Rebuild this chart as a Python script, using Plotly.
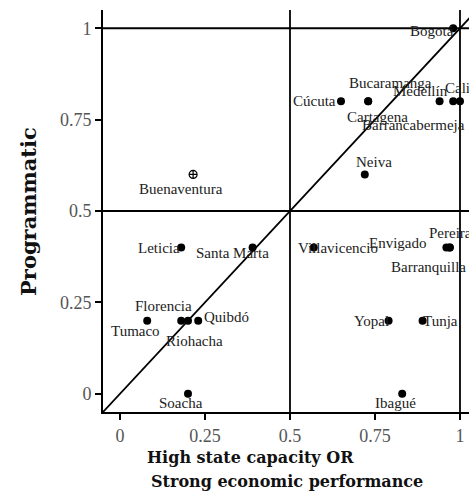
import plotly.graph_objects as go

# ---- data ----
cities = ["Bogotá", "Cúcuta", "Bucaramanga", "Cartagena", "Medellín", "Cali",
          "Barrancabermeja", "Neiva", "Leticia", "Santa Marta", "Villavicencio",
          "Envigado", "Pereira", "Barranquilla", "Tumaco", "Florencia", "Riohacha",
          "Quibdó", "Soacha", "Yopal", "Tunja", "Ibagué"]
x_capacity = [0.98, 0.65, 0.73, 0.73, 0.94, 0.98,
              1.00, 0.72, 0.18, 0.39, 0.57,
              0.96, 0.97, 0.97, 0.08, 0.18, 0.20,
              0.23, 0.20, 0.79, 0.89, 0.83]
y_programmatic = [1.0, 0.8, 0.8, 0.8, 0.8, 0.8,
                  0.8, 0.6, 0.4, 0.4, 0.4,
                  0.4, 0.4, 0.4, 0.2, 0.2, 0.2,
                  0.2, 0.0, 0.2, 0.2, 0.0]
special_city = ["Buenaventura"]
special_x = [0.215]
special_y = [0.6]

tick_vals = [0, 0.25, 0.5, 0.75, 1]
tick_text = ["0", "0.25", "0.5", "0.75", "1"]
x_title_lines = ["High state capacity OR", "Strong economic performance"]
y_title = "Programmatic"

# ---- label placement (pixel offsets / anchors: style only) ----
label_style = {
    "Bogotá": ("right", 3, -3),
    "Cúcuta": ("right", -3, 0),
    "Bucaramanga": ("center", 22, 18),
    "Cartagena": ("center", 9, -16),
    "Medellín": ("center", -19, 10),
    "Cali": ("left", -10, 13),
    "Barrancabermeja": ("center", -46, -24),
    "Neiva": ("center", 9, 12),
    "Leticia": ("right", 1, 0),
    "Santa Marta": ("center", -20, -5),
    "Villavicencio": ("left", -18, 0),
    "Envigado": ("center", -48, 5),
    "Pereira": ("center", 1, 15),
    "Barranquilla": ("center", -21, -19),
    "Tumaco": ("center", -12, -10),
    "Florencia": ("center", -18, 15),
    "Riohacha": ("center", 6, -20),
    "Quibdó": ("left", 4, 4),
    "Soacha": ("center", -7, -9),
    "Yopal": ("right", 2, 0),
    "Tunja": ("left", -2, 0),
    "Ibagué": ("center", -7, -9),
    "Buenaventura": ("center", -12, -15),
}

LINE = dict(color="black", width=1.8)
fig = go.Figure()

# reference lines
for yv in [0.5, 1.0]:
    fig.add_trace(go.Scatter(x=[-0.05, 1.1], y=[yv, yv], mode="lines", line=LINE,
                             hoverinfo="skip", showlegend=False))
for xv in [0.5, 1.0]:
    fig.add_trace(go.Scatter(x=[xv, xv], y=[-0.05, 1.1], mode="lines", line=LINE,
                             hoverinfo="skip", showlegend=False))
fig.add_trace(go.Scatter(x=[-0.05, 1.1], y=[-0.05, 1.1], mode="lines", line=LINE,
                         hoverinfo="skip", showlegend=False))

fig.add_trace(go.Scatter(x=x_capacity, y=y_programmatic, mode="markers",
                         marker=dict(color="black", size=8), text=cities,
                         showlegend=False, cliponaxis=False))
fig.add_trace(go.Scatter(x=special_x, y=special_y, mode="markers",
                         marker=dict(color="black", size=8, symbol="circle-cross-open",
                                     line=dict(width=1.2, color="black")),
                         text=special_city, showlegend=False))

annotations = []
for name, xv, yv in list(zip(cities, x_capacity, y_programmatic)) + \
        list(zip(special_city, special_x, special_y)):
    anchor, dx, dy = label_style[name]
    annotations.append(dict(x=xv, y=yv, xref="x", yref="y", text=name,
                            showarrow=False, xanchor=anchor, yanchor="middle",
                            xshift=dx, yshift=dy,
                            font=dict(family="Liberation Serif", size=15, color="#222")))

TITLE_FONT = dict(family="DejaVu Serif", size=16, color="#111")
annotations.append(dict(x=0.1148, y=-0.114, xref="paper", yref="paper",
                        text="<b>%s</b>" % x_title_lines[0], showarrow=False,
                        xanchor="left", yanchor="middle", font=TITLE_FONT))
annotations.append(dict(x=0.1257, y=-0.174, xref="paper", yref="paper",
                        text="<b>%s</b>" % x_title_lines[1], showarrow=False,
                        xanchor="left", yanchor="middle", font=TITLE_FONT))
annotations.append(dict(x=-0.205, y=0.5, xref="paper", yref="paper",
                        text="<b>%s</b>" % y_title, showarrow=False, textangle=-90,
                        xanchor="center", yanchor="middle",
                        font=dict(family="DejaVu Serif", size=21, color="#111")))

AX = dict(showgrid=False, zeroline=False, showline=True, linecolor="black", linewidth=2,
          ticks="outside", ticklen=6, tickwidth=1.5, tickcolor="black",
          tickvals=tick_vals, ticktext=tick_text,
          tickfont=dict(family="Liberation Serif", size=18, color="#555"))

fig.update_layout(
    width=469, height=492,
    margin=dict(l=103, r=0, t=10, b=80),
    plot_bgcolor="white", paper_bgcolor="white",
    xaxis=dict(range=[-0.05, 1.0265], **AX),
    yaxis=dict(range=[-0.05, 1.05], **AX),
    annotations=annotations,
    showlegend=False,
)

fig.write_html("out.html",
               config={"displayModeBar": False},
               post_script="document.body.style.margin='0';document.body.style.overflow='hidden';")
